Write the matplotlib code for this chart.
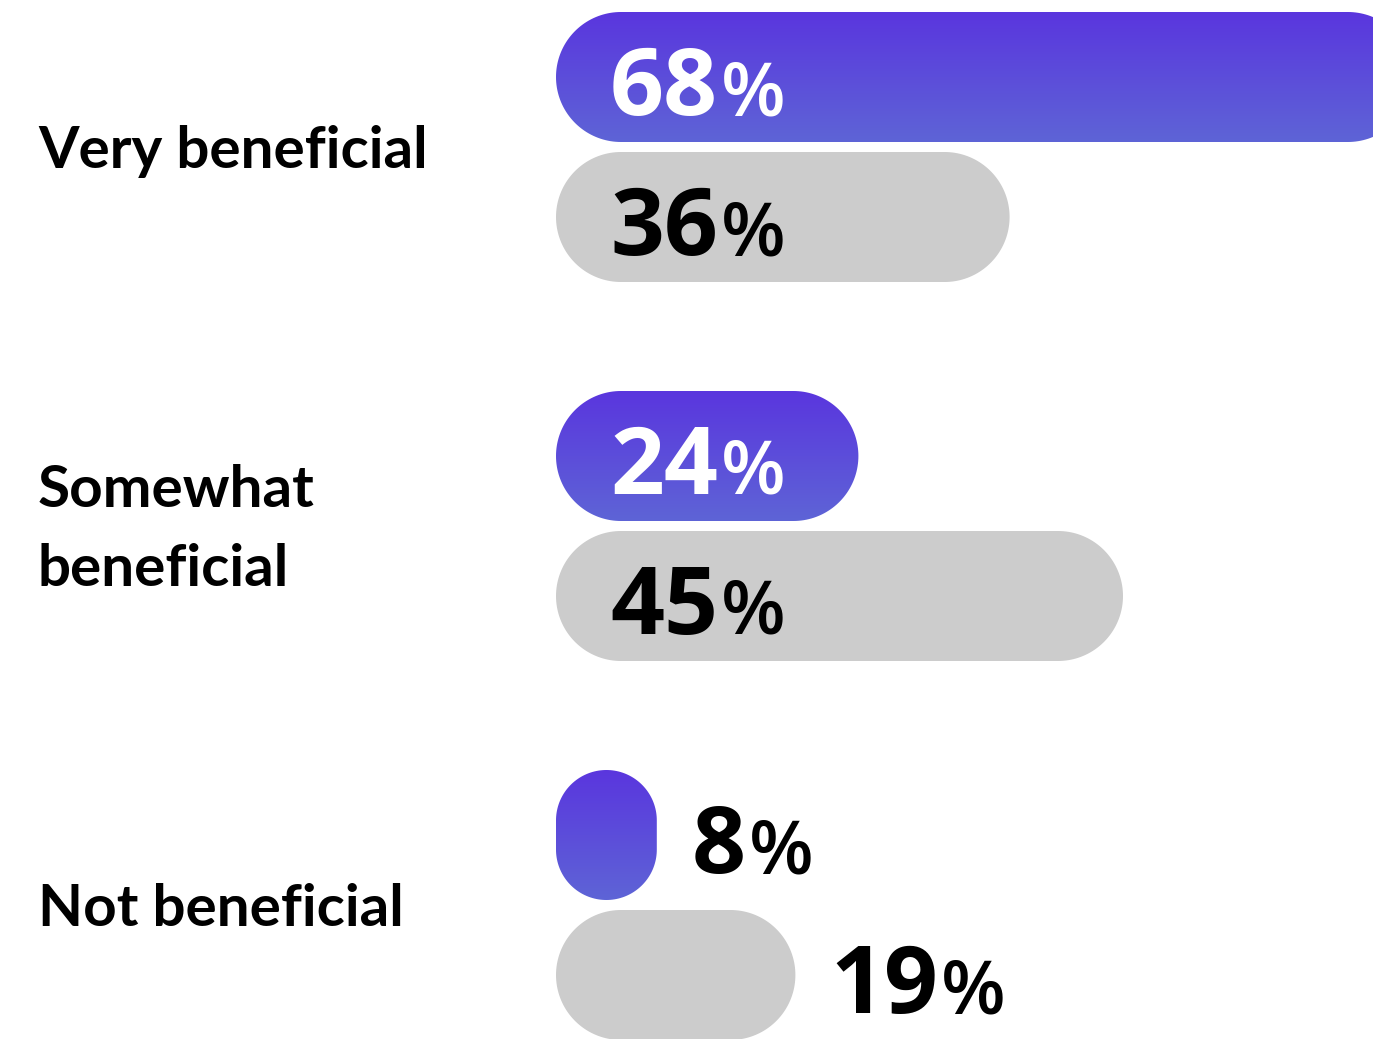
import numpy as np
import matplotlib.pyplot as plt
from matplotlib.patches import Polygon
from matplotlib.colors import LinearSegmentedColormap

# Survey answers: highlighted group vs. comparison group (percent)
groups = ['Very beneficial', 'Somewhat\nbeneficial', 'Not beneficial']
highlight = [68, 24, 8]
comparison = [36, 45, 19]

PURPLE_TOP = '#5a36de'
PURPLE_BOTTOM = '#5e64d6'
GRAY = '#cccccc'

W, H = 1373, 1039
PX = 12.6          # pixels per percentage point
X0 = 556           # left edge of the bars, px
BAR_H = 130
ROW_TOP = 12
ROW_STEP = 379
PAIR_GAP = 140

plt.rcParams['font.family'] = ['Open Sans', 'DejaVu Sans']

fig = plt.figure(figsize=(W / 100, H / 100), dpi=100)
ax = fig.add_axes([0, 0, 1, 1])
ax.axis('off')

grad_cmap = LinearSegmentedColormap.from_list('bar', [PURPLE_TOP, PURPLE_BOTTOM])


def pill(x, y_top, w, h):
    # outline of a rounded bar; x/w in percent, y/h in pixels
    r = min(h / 2, w * PX / 2)
    rx = r / PX
    pts = []
    for cx, cy, a0 in [(x + w - rx, y_top + r, -np.pi / 2),
                       (x + w - rx, y_top + h - r, 0),
                       (x + rx, y_top + h - r, np.pi / 2),
                       (x + rx, y_top + r, np.pi)]:
        a = np.linspace(a0, a0 + np.pi / 2, 40)
        pts.append(np.column_stack([cx + rx * np.cos(a), cy + r * np.sin(a)]))
    return np.vstack(pts)


def value_label(x, baseline, value, color):
    t = ax.text(x, baseline, f'{value}', fontsize=68, fontweight='bold',
                color=color, ha='left', va='baseline')
    ax.annotate('%', xy=(1, baseline), xycoords=(t, 'data'),
                xytext=(2, 0), textcoords='offset points',
                fontsize=54, fontweight='semibold', color=color,
                ha='left', va='baseline')


for i, (name, hv, cv) in enumerate(zip(groups, highlight, comparison)):
    top = ROW_TOP + i * ROW_STEP

    # highlighted bar with vertical gradient
    outline = Polygon(pill(0, top, hv, BAR_H), closed=True,
                      facecolor='none', edgecolor='none')
    ax.add_patch(outline)
    im = ax.imshow(np.linspace(0, 1, 256).reshape(-1, 1), cmap=grad_cmap,
                   extent=[0, hv, top + BAR_H, top], aspect='auto', zorder=2)
    im.set_clip_path(outline)

    # comparison bar
    ctop = top + PAIR_GAP
    ax.add_patch(Polygon(pill(0, ctop, cv, BAR_H), closed=True,
                         facecolor=GRAY, edgecolor='none', zorder=2))

    for v, bt, inside_color in [(hv, top, 'white'), (cv, ctop, 'black')]:
        baseline = bt + BAR_H / 2 + 38
        if v * PX > 250:
            value_label(54 / PX, baseline, v, inside_color)
        else:
            value_label(v + 35 / PX, baseline, v, 'black')

    # category label, centred on the pair of bars
    center = top + (PAIR_GAP + BAR_H) / 2 + 4
    ax.text(-(X0 - 38) / PX, center, name, fontsize=42, fontweight='bold',
            family=['Lato', 'DejaVu Sans'],
            color='black', ha='left', va='center', linespacing=1.62)

ax.set_xlim(-X0 / PX, (W - X0) / PX)
ax.set_ylim(H, 0)

fig.savefig('out.png', dpi=100)
